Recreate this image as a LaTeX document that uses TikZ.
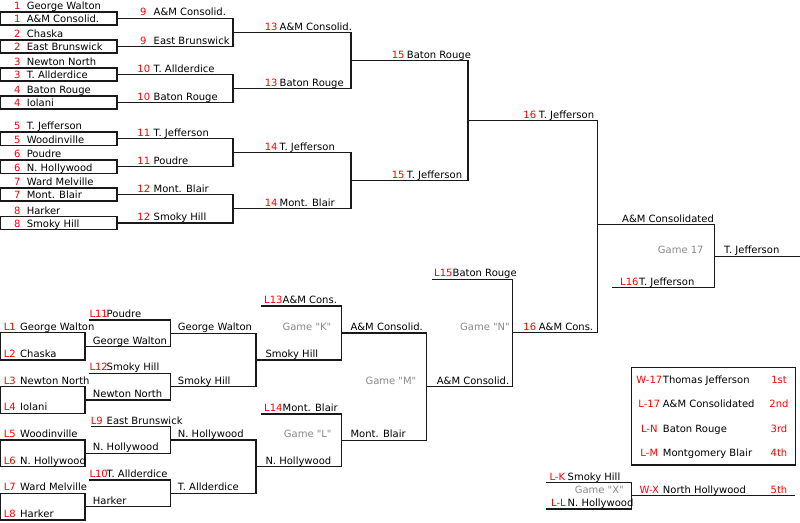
\documentclass[tikz,border=0pt]{standalone}
\usepackage{fontspec}
\setmainfont{DejaVu Sans}[Ligatures=TeXOff]
\definecolor{gry}{RGB}{136,136,136}
\definecolor{lnc}{RGB}{25,25,25}
\newcommand\dq{"}
\tikzset{
  wire/.style={draw=lnc, line width=1.1pt, line join=miter},
  tname/.style={anchor=base west, inner sep=0pt, font=\fontsize{10}{12}\selectfont},
  tnum/.style={anchor=base west, inner sep=0pt, text=red, font=\fontsize{10}{12}\selectfont},
  tcen/.style={anchor=base, inner sep=0pt, text=red, font=\fontsize{10}{12}\selectfont},
  tgame/.style={anchor=base east, inner sep=0pt, text=gry, font=\fontsize{10}{12}\selectfont},
}
% #1 node name, #2 x of red label, #3 x of name, #4 y of line, #5 red label, #6 text
\newcommand\ent[6]{%
  \node[tnum] (#1n) at (#2,#4-2.5) {#5};
  \node[tname] (#1) at (#3,#4-2.5) {#6};}
% plain name on a line
\newcommand\nam[4]{\node[tname] (#1) at (#2,#3-2.5) {#4};}
% bracket: xa, xb, y1, y2
\newcommand\brk[4]{\draw[wire] (#1,#3)--(#2,#3)--(#2,#4)--(#1,#4);}
\begin{document}
\begin{tikzpicture}[x=1pt,y=-1pt]
\useasboundingbox (0,0) rectangle (800,522);

% ---------------- upper bracket: lines
\foreach \a/\b in {12/25,40/53,68/81,96/109,132/145.5,160/173.5,188/201,216.5/229.5}
  \draw[wire] (0,\a) rectangle (117,\b);
\brk{117}{233}{18.5}{46.5}
\brk{117}{233}{74.5}{102.5}
\brk{117}{233}{138.75}{166.75}
\brk{117}{233}{194.5}{223}
\brk{233}{351}{32.5}{88.5}
\brk{233}{351}{152.75}{208.75}
\brk{351}{468}{60.5}{180.75}
\draw[wire] (468,120.6)--(597.5,120.6)--(597.5,332.7)--(512.3,332.7);
\draw[wire] (597.5,224.5)--(714.5,224.5)--(714.5,287.7)--(612.3,287.7);
\draw[wire] (714.5,256.1)--(800,256.1);

% ---------------- upper bracket: texts
\ent{a1}{14}{26.6}{12}{1}{George Walton}
\ent{a2}{14}{26.6}{25}{1}{A\&M Consolid.}
\ent{a3}{14}{26.6}{40}{2}{Chaska}
\ent{a4}{14}{26.6}{53}{2}{East Brunswick}
\ent{a5}{14}{26.6}{68}{3}{Newton North}
\ent{a6}{14}{26.6}{81}{3}{T. Allderdice}
\ent{a7}{14}{26.6}{96}{4}{Baton Rouge}
\ent{a8}{14}{26.6}{109}{4}{Iolani}
\ent{a9}{14}{26.6}{132}{5}{T. Jefferson}
\ent{a10}{14}{26.6}{145.5}{5}{Woodinville}
\ent{a11}{14}{26.6}{160}{6}{Poudre}
\ent{a12}{14}{26.6}{173.5}{6}{N. Hollywood}
\ent{a13}{14}{26.6}{188}{7}{Ward Melville}
\ent{a14}{14}{26.6}{201}{7}{Mont. Blair}
\ent{a15}{14}{26.6}{216.5}{8}{Harker}
\ent{a16}{14}{26.6}{229.5}{8}{Smoky Hill}

\ent{b1}{140}{153.5}{18.5}{9}{A\&M Consolid.}
\ent{b2}{140}{153.5}{46.5}{9}{East Brunswick}
\ent{b3}{137.2}{153.5}{74.5}{10}{T. Allderdice}
\ent{b4}{137.2}{153.5}{102.5}{10}{Baton Rouge}
\ent{b5}{137.2}{153.5}{138.75}{11}{T. Jefferson}
\ent{b6}{137.2}{153.5}{166.75}{11}{Poudre}
\ent{b7}{137.2}{153.5}{194.5}{12}{Mont. Blair}
\ent{b8}{137.2}{153.5}{223}{12}{Smoky Hill}

\ent{c1}{264.6}{279.5}{32.5}{13}{A\&M Consolid.}
\ent{c2}{264.6}{279.5}{88.5}{13}{Baton Rouge}
\ent{c3}{264.6}{279.5}{152.75}{14}{T. Jefferson}
\ent{c4}{264.6}{279.5}{208.75}{14}{Mont. Blair}

\ent{d1}{391.6}{406.7}{60.5}{15}{Baton Rouge}
\ent{d2}{391.6}{406.7}{180.75}{15}{T. Jefferson}

\ent{e1}{523.2}{538.7}{120.6}{16}{T. Jefferson}
\ent{e2}{523.2}{538.7}{332.7}{16}{A\&M Cons.}

\nam{f1}{622}{224.5}{A\&M Consolidated}
\ent{f2}{620}{639}{287.7}{L16}{T. Jefferson}
\node[tgame] (g17) at (703.8,256.1-2.5) {Game 17};
\nam{champ}{724}{256.1}{T. Jefferson}

% ---------------- lower bracket: lines
\foreach \a/\b in {332.7/360,386.7/413.3,440/466.7,493.3/520}
  \draw[wire] (0,\a) rectangle (85,\b);
\draw[wire] (89.3,320)--(170.5,320)--(170.5,346.7)--(85,346.7);
\draw[wire] (89.3,373.3)--(170.5,373.3)--(170.5,400)--(85,400);
\draw[wire] (90.7,426.7)--(170.5,426.7)--(170.5,453.3)--(85,453.3);
\draw[wire] (89.3,480)--(170.5,480)--(170.5,506.7)--(85,506.7);
\brk{170.5}{256}{333.3}{386.7}
\brk{170.5}{256}{440}{493.3}
\draw[wire] (261,306)--(341.7,306)--(341.7,360)--(256,360);
\draw[wire] (261,414)--(341.7,414)--(341.7,466.7)--(256,466.7);
\brk{341.7}{426.7}{333}{440.3}
\draw[wire] (431.7,279.3)--(512.3,279.3)--(512.3,386.7)--(426.7,386.7);

% ---------------- lower bracket: texts
\ent{l1}{3.7}{20}{332.7}{L1}{George Walton}
\ent{l2}{3.7}{20}{360}{L2}{Chaska}
\ent{l3}{3.7}{20}{386.7}{L3}{Newton North}
\ent{l4}{3.7}{20}{413.3}{L4}{Iolani}
\ent{l5}{3.7}{20}{440}{L5}{Woodinville}
\ent{l6}{3.7}{20}{466.7}{L6}{N. Hollywood}
\ent{l7}{3.7}{20}{493.3}{L7}{Ward Melville}
\ent{l8}{3.7}{20}{520}{L8}{Harker}

\ent{m1}{89.3}{106.5}{320}{L11}{Poudre}
\nam{m2}{92.7}{346.7}{George Walton}
\ent{m3}{89.3}{106.5}{373.3}{L12}{Smoky Hill}
\nam{m4}{92.7}{400}{Newton North}
\ent{m5}{90.7}{106.5}{426.7}{L9}{East Brunswick}
\nam{m6}{92.7}{453.3}{N. Hollywood}
\ent{m7}{89.3}{106.5}{480}{L10}{T. Allderdice}
\nam{m8}{92.7}{506.7}{Harker}

\nam{n1}{177.7}{333.3}{George Walton}
\nam{n2}{177.7}{386.7}{Smoky Hill}
\nam{n3}{177.7}{440}{N. Hollywood}
\nam{n4}{177.7}{493.3}{T. Allderdice}

\ent{k1}{264}{282.5}{306}{L13}{A\&M Cons.}
\nam{k2}{265.3}{360}{Smoky Hill}
\node[tgame] (gK) at (331.5,333-2.5) {Game \dq K\dq};
\ent{q1}{264}{282.5}{414}{L14}{Mont. Blair}
\nam{q2}{265.3}{466.7}{N. Hollywood}
\node[tgame] (gL) at (331.8,440.3-2.5) {Game \dq L\dq};

\nam{r1}{350.4}{333}{A\&M Consolid.}
\nam{r2}{350.4}{440.3}{Mont. Blair}
\node[tgame] (gM) at (416.5,386.7-2.5) {Game \dq M\dq};

\ent{s1}{434}{452.5}{279.3}{L15}{Baton Rouge}
\nam{s2}{436.7}{386.7}{A\&M Consolid.}
\node[tgame] (gN) at (510,333-2.5) {Game \dq N\dq};

% ---------------- game X
\draw[wire] (546,482.7)--(631.7,482.7)--(631.7,509)--(546,509);
\draw[wire] (631.7,495.8)--(795,495.8);
\ent{x1}{549.3}{567.5}{482.7}{L-K}{Smoky Hill}
\ent{x2}{551}{567.5}{509}{L-L}{N. Hollywood}
\node[tgame] (gX) at (624,495.8-2.5) {Game \dq X\dq};

% ---------------- standings
\draw[wire] (631.7,367.5) rectangle (795.5,465);
\node[tcen] (w17) at (649.3,383) {W-17};
\node[tname] (p1) at (662.7,383) {Thomas Jefferson};
\node[tcen] (o1) at (779,383) {1st};
\node[tcen] (l17) at (649.3,407) {L-17};
\node[tname] (p2) at (662.7,407) {A\&M Consolidated};
\node[tcen] (o2) at (779,407) {2nd};
\node[tcen] (lN) at (649.3,432) {L-N};
\node[tname] (p3) at (662.7,432) {Baton Rouge};
\node[tcen] (o3) at (779,432) {3rd};
\node[tcen] (lM) at (649.3,456) {L-M};
\node[tname] (p4) at (662.7,456) {Montgomery Blair};
\node[tcen] (o4) at (779,456) {4th};
\node[tcen] (wX) at (649.3,493.5) {W-X};
\node[tname] (p5) at (662.7,493.5) {North Hollywood};
\node[tcen] (o5) at (779,493.5) {5th};
\end{tikzpicture}
\end{document}
